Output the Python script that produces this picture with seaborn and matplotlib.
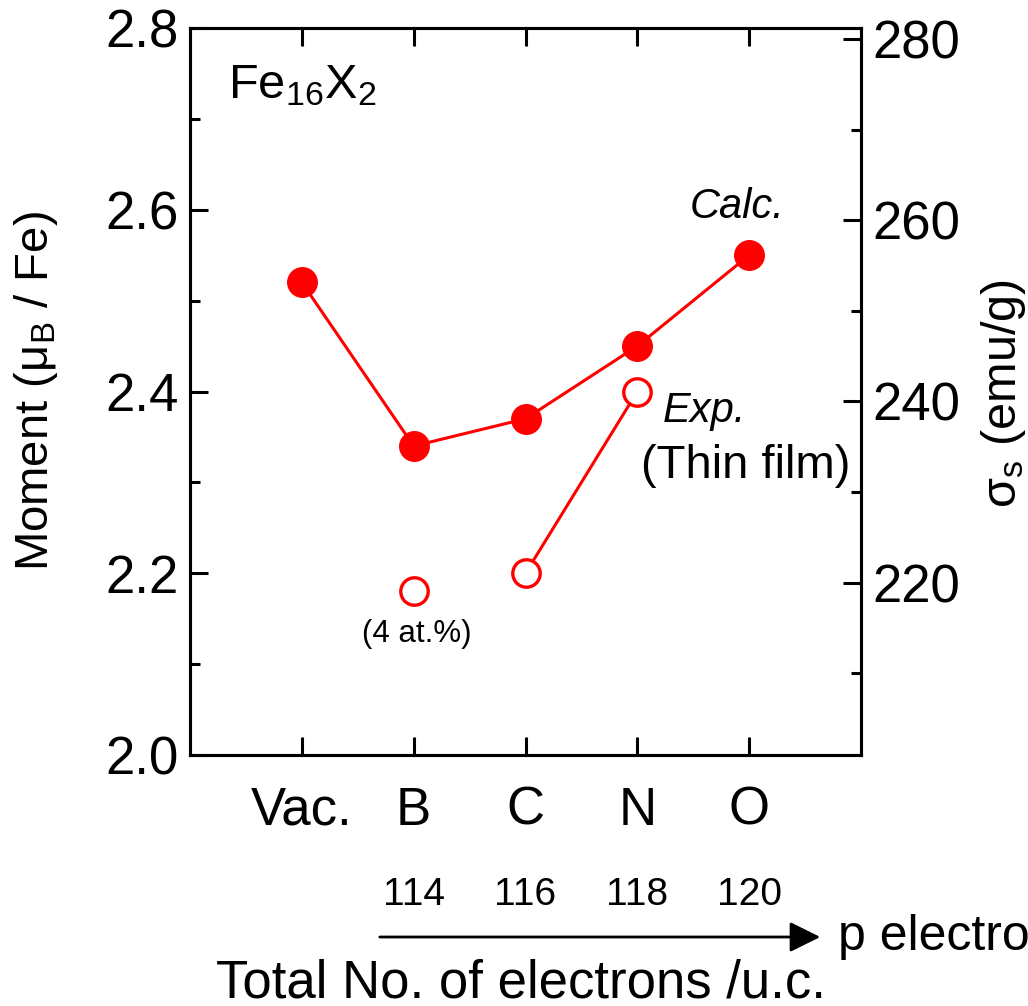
import matplotlib
matplotlib.use("Agg")
import matplotlib.pyplot as plt
import seaborn as sns
import numpy as np
import pandas as pd
from matplotlib.ticker import MultipleLocator, FixedLocator
from matplotlib.transforms import blended_transform_factory

# ---------------- data ----------------
categories = ["Vac.", "B", "C", "N", "O"]
calc_moment = [2.52, 2.34, 2.37, 2.45, 2.55]
exp_categories = ["B", "C", "N"]
exp_moment = [2.18, 2.20, 2.40]
exp_connected = [False, True, True]
electron_categories = ["B", "C", "N", "O"]
electron_labels = ["114", "116", "118", "120"]
left_ticks = [2.0, 2.2, 2.4, 2.6, 2.8]
right_ticks = [220, 240, 260, 280]

sns.set_theme(style="ticks")
plt.rcParams["font.family"] = ["Liberation Sans", "DejaVu Sans"]
plt.rcParams["mathtext.fontset"] = "custom"
plt.rcParams["mathtext.rm"] = "Liberation Sans"
plt.rcParams["mathtext.it"] = "Liberation Sans:italic"
plt.rcParams["mathtext.default"] = "regular"
plt.rcParams["text.color"] = "black"
plt.rcParams["axes.labelcolor"] = "black"
plt.rcParams["xtick.color"] = "black"
plt.rcParams["ytick.color"] = "black"
plt.rcParams["axes.edgecolor"] = "black"

RED = "#ff0000"
pos = {c: i for i, c in enumerate(categories)}

calc_df = pd.DataFrame({"x": [pos[c] for c in categories], "m": calc_moment})
exp_df = pd.DataFrame({"x": [pos[c] for c in exp_categories], "m": exp_moment,
                       "conn": exp_connected})

W, H = 1028, 1006
fig = plt.figure(figsize=(W / 100, H / 100), dpi=100)
ax = fig.add_axes([190 / W, 1 - 755 / H, (861 - 190) / W, (755 - 28) / H])

sns.lineplot(data=calc_df, x="x", y="m", ax=ax, color=RED, lw=2.2,
             marker="o", markersize=21.5, markeredgecolor=RED, markerfacecolor=RED,
             zorder=3)
sns.lineplot(data=exp_df[exp_df["conn"]], x="x", y="m", ax=ax, color=RED, lw=2.2,
             zorder=2)
sns.scatterplot(data=exp_df, x="x", y="m", ax=ax, s=390, facecolor="white",
                edgecolor=RED, linewidth=2.4, zorder=4)

ax.set_xlim(-1, 5)
ax.set_ylim(2.0, 2.8)
ax.set_xticks(range(len(categories)))
ax.set_xticklabels(categories)
ax.yaxis.set_major_locator(FixedLocator(left_ticks))
ax.yaxis.set_major_formatter(matplotlib.ticker.FormatStrFormatter("%.1f"))
ax.yaxis.set_minor_locator(MultipleLocator(0.1))
ax.set_xlabel("")
ax.set_ylabel("")

for s in ax.spines.values():
    s.set_linewidth(2.2)
    s.set_color("black")

ax.tick_params(axis="both", which="major", direction="in", length=13, width=2.2,
               labelsize=38, colors="black")
ax.tick_params(axis="y", which="minor", direction="in", length=7.5, width=2.2)
ax.tick_params(axis="y", which="both", left=True, right=False, pad=8)
ax.tick_params(axis="x", which="major", top=True, bottom=True, pad=22)

ax2 = ax.twinx()
ax2.set_ylim(201, 281.2)
ax2.yaxis.set_major_locator(FixedLocator(right_ticks))
ax2.yaxis.set_minor_locator(FixedLocator([210, 230, 250, 270]))
ax2.tick_params(axis="y", which="major", direction="in", length=13, width=2.2,
                labelsize=38, pad=8, colors="black")
ax2.tick_params(axis="y", which="minor", direction="in", length=7.5, width=2.2)
for s in ax2.spines.values():
    s.set_linewidth(2.2)
    s.set_color("black")
ax2.set_ylabel("")

# annotations inside the axes
ax.text(-0.66, 2.723, "Fe$_{16}$X$_2$", fontsize=35, ha="left", va="baseline")
ax.text(3.89, 2.603, "Calc.", fontsize=30, style="italic", ha="center", va="center")
ax.text(3.60, 2.378, "Exp.", fontsize=30, style="italic", ha="center", va="center")
ax.text(3.969, 2.318, "(Thin film)", fontsize=34, ha="center", va="center")
ax.text(1.03, 2.133, "(4 at.%)", fontsize=22.5, ha="center", va="center")

# axis labels
fig.text(36 / W, 1 - 391 / H, "Moment (μ$_{B}$ / Fe)", fontsize=34, rotation=90,
         ha="center", va="center")
fig.text(1003 / W, 1 - 394 / H, "σ$_{s}$ (emu/g)", fontsize=35, rotation=90,
         ha="center", va="center")

# electron count row
tr = blended_transform_factory(ax.transData, fig.transFigure)
for c, lab in zip(electron_categories, electron_labels):
    ax.text(pos[c], 1 - 895 / H, lab, transform=tr, fontsize=28, ha="center",
            va="center", clip_on=False)

fig.add_artist(matplotlib.patches.FancyArrowPatch(
    (377 / W, 1 - 937 / H), (823 / W, 1 - 937 / H), transform=fig.transFigure,
    arrowstyle="-|>,head_length=1.25,head_width=0.62", mutation_scale=15,
    color="black", lw=2.0))
fig.text(838 / W, 1 - 937 / H, "p electrons", fontsize=36, ha="left", va="center")
fig.text(216 / W, 1 - 997 / H, "Total No. of electrons /u.c.", fontsize=38,
         ha="left", va="baseline")

fig.savefig("out.png", dpi=100)
